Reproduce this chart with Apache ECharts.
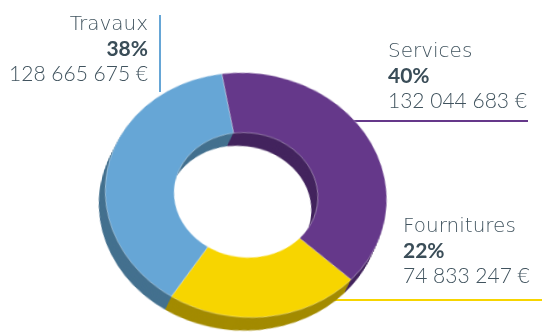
<!DOCTYPE html>
<html>
<head>
<meta charset="utf-8">
<script src="https://cdn.jsdelivr.net/npm/echarts@6/dist/echarts.min.js"></script>
<style>
  html, body { margin: 0; padding: 0; background: #ffffff; }
  #wrap { position: relative; width: 542px; height: 332px; overflow: hidden; }
  #labels { position: absolute; left: 0; top: 0; width: 542px; height: 332px; }
  #donut {
    position: absolute; left: 76px; top: 25px; width: 340px; height: 340px;
    transform-origin: 170px 170px;
    transform: rotate(7deg) scaleY(0.866);
  }
</style>
</head>
<body>
<div id="wrap">
  <div id="labels"></div>
  <div id="donut"></div>
</div>
<script>
// Budget split by purchase category (amounts in euros)
const categories = ['Services', 'Fournitures', 'Travaux'];
const amounts = [132044683, 74833247, 128665675];
const shareLabels = ['40%', '22%', '38%'];

// Face and side shades for each category
const topColors = ['#65388A', '#F7D500', '#66A6D6'];
const sideColors = ['#43245E', '#A38B00', '#44718F'];

function euro(v) {
  return String(v).replace(/\B(?=(\d{3})+(?!\d))/g, ' ') + ' €';
}

// ---- tilted donut: stacked rings give the extruded side ----
const donut = echarts.init(document.getElementById('donut'), null, { renderer: 'canvas' });
const DEPTH = 16;
const series = [];
function ring(offset, colors, border) {
  return {
    type: 'pie',
    silent: true,
    animation: false,
    center: [170 - offset * 0.3, 170 + offset],
    radius: [72, 141],
    startAngle: 106,
    clockwise: true,
    label: { show: false },
    labelLine: { show: false },
    emphasis: { disabled: true },
    itemStyle: border
      ? { borderColor: 'rgba(255,255,255,0.55)', borderWidth: 0.7 }
      : { borderWidth: 0 },
    data: categories.map((c, i) => ({
      name: c, value: amounts[i], itemStyle: { color: colors[i] }
    }))
  };
}
for (let k = DEPTH; k >= 1; k--) series.push(ring(k, sideColors, false));
series.push(ring(0, topColors, true));
donut.setOption({ backgroundColor: 'transparent', series: series });

// ---- callout texts and leader lines ----
const labels = echarts.init(document.getElementById('labels'), null, { renderer: 'canvas' });
const WORD_FONT = '200 20px "DejaVu Sans", sans-serif';
const PCT_FONT = 'bold 21px Lato, sans-serif';
const NUM_FONT = '300 21px Lato, sans-serif';
const textColor = '#40535E';
const boldColor = '#3A4D58';

// anchor: x, first baseline, alignment
const blocks = {
  Services:    { x: 388, y: 58,  align: 'left' },
  Fournitures: { x: 403, y: 233, align: 'left' },
  Travaux:     { x: 148, y: 31,  align: 'right' }
};
const LINE = 25;

function txt(text, x, baseline, align, font, color) {
  return {
    type: 'text',
    style: {
      text: text, x: x, y: baseline,
      textAlign: align, textVerticalAlign: 'bottom',
      font: font,
      fill: color
    }
  };
}

const elements = [];
categories.forEach((c, i) => {
  const b = blocks[c];
  elements.push(txt(c, b.x, b.y + 4, b.align, WORD_FONT, textColor));
  elements.push(txt(shareLabels[i], b.x, b.y + LINE + 4, b.align, PCT_FONT, boldColor));
  elements.push(txt(euro(amounts[i]), b.x, b.y + 2 * LINE + 4, b.align, NUM_FONT, textColor));
});

// leader lines
elements.push({ type: 'line', shape: { x1: 160, y1: 15, x2: 160, y2: 92 },
  style: { stroke: topColors[2], lineWidth: 2 } });
elements.push({ type: 'line', shape: { x1: 345, y1: 121, x2: 528, y2: 121 },
  style: { stroke: topColors[0], lineWidth: 2 } });
elements.push({ type: 'line', shape: { x1: 330, y1: 300, x2: 542, y2: 300 },
  style: { stroke: topColors[1], lineWidth: 2 } });

labels.setOption({ backgroundColor: '#ffffff', graphic: { elements: elements } });
</script>
</body>
</html>
